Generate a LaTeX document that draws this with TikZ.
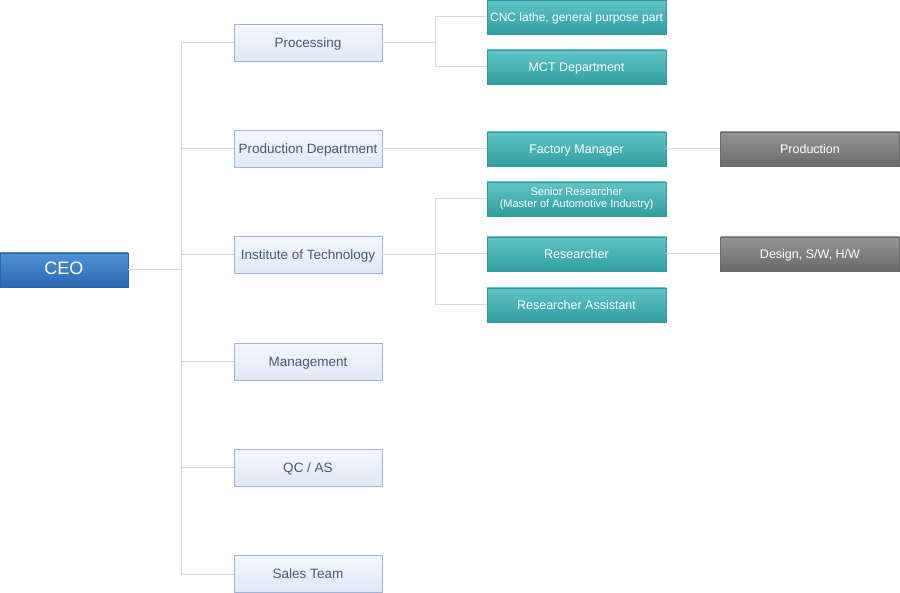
\documentclass[tikz,border=0pt]{standalone}
\usepackage{fontspec}
\setmainfont{Liberation Sans}
\usepackage{tikz}

\definecolor{linegray}{HTML}{D9D9D9}
\definecolor{ceoborder}{HTML}{2C63A8}
\definecolor{deptborder}{HTML}{9DB3DE}
\definecolor{depttext}{HTML}{4A5878}
\definecolor{tealborder}{HTML}{2E9D9E}
\definecolor{grayborder}{HTML}{6A6A6A}

\begin{document}
\begin{tikzpicture}[x=1pt,y=-1pt,
  ceo/.style={draw=ceoborder,top color={rgb,255:red,80;green,145;blue,212},bottom color={rgb,255:red,40;green,105;blue,178},
    text=white,minimum width=128pt,minimum height=34pt,inner sep=0pt,text height=0.95em,text depth=0pt,font=\fontsize{18}{20}\selectfont},
  dept/.style={draw=deptborder,top color={rgb,255:red,244;green,247;blue,252},bottom color={rgb,255:red,224;green,232;blue,245},
    text=depttext,minimum width=148pt,minimum height=37pt,inner sep=0pt,text height=0.95em,text depth=0pt,font=\fontsize{13.5}{15}\selectfont},
  team/.style={draw=tealborder,top color={rgb,255:red,98;green,196;blue,197},bottom color={rgb,255:red,48;green,158;blue,160},
    text=white,minimum width=179pt,minimum height=34pt,inner sep=0pt,text height=0.95em,text depth=0pt,font=\fontsize{12.5}{13}\selectfont,align=center},
  work/.style={draw=grayborder,top color={rgb,255:red,150;green,150;blue,150},bottom color={rgb,255:red,106;green,106;blue,106},
    text=white,minimum width=179pt,minimum height=34pt,inner sep=0pt,text height=0.95em,text depth=0pt,font=\fontsize{12.5}{13}\selectfont},
  link/.style={draw=linegray,line width=1pt}]
\useasboundingbox (0,0) rectangle (900,593);
% boxes
\node[ceo] (ceo) at (64,270) {CEO};
\node[dept] (proc) at (308,43) {Processing};
\node[dept] (prod) at (308,149) {Production Department};
\node[dept] (inst) at (308,255) {Institute of Technology};
\node[dept] (mgmt) at (308,362) {Management};
\node[dept] (qc) at (308,468) {QC / AS};
\node[dept] (sales) at (308,574) {Sales Team};
\node[team,font=\fontsize{12}{13}\selectfont] (cnc) at (576.5,17) {CNC lathe, general purpose part};
\node[team] (mct) at (576.5,67) {MCT Department};
\node[team] (fact) at (576.5,149) {Factory Manager};
\node[team,text height=,text depth=,font=\fontsize{11}{12}\selectfont] (senior) at (576.5,199) {Senior Researcher\\(Master of Automotive Industry)};
\node[team] (res) at (576.5,254) {Researcher};
\node[team] (assist) at (576.5,305) {Researcher Assistant};
\node[work] (pwork) at (810,149) {Production};
\node[work] (dwork) at (810,254) {Design, S/W, H/W};
% lines
\coordinate (trunk) at (181,270);
\coordinate (pj) at (435,43);
\coordinate (ij) at (435,255);
\draw[link] (ceo.east)--(trunk);
\draw[link] (proc.west)-|(trunk);
\draw[link] (sales.west)-|(trunk);
\foreach \d in {prod,inst,mgmt,qc}
  \draw[link] (\d.west)--(\d.west-|trunk);
\draw[link] (proc.east)--(pj);
\draw[link] (cnc.west)-|(pj);
\draw[link] (mct.west)-|(pj);
\draw[link] (prod.east)--(fact.west);
\draw[link] (fact.east)--(pwork.west);
\draw[link] (inst.east)--(ij);
\draw[link] (senior.west)-|(ij);
\draw[link] (assist.west)-|(ij);
\draw[link] (res.west)--(res.west-|ij);
\draw[link] (res.east)--(dwork.west);
\end{tikzpicture}
\end{document}
